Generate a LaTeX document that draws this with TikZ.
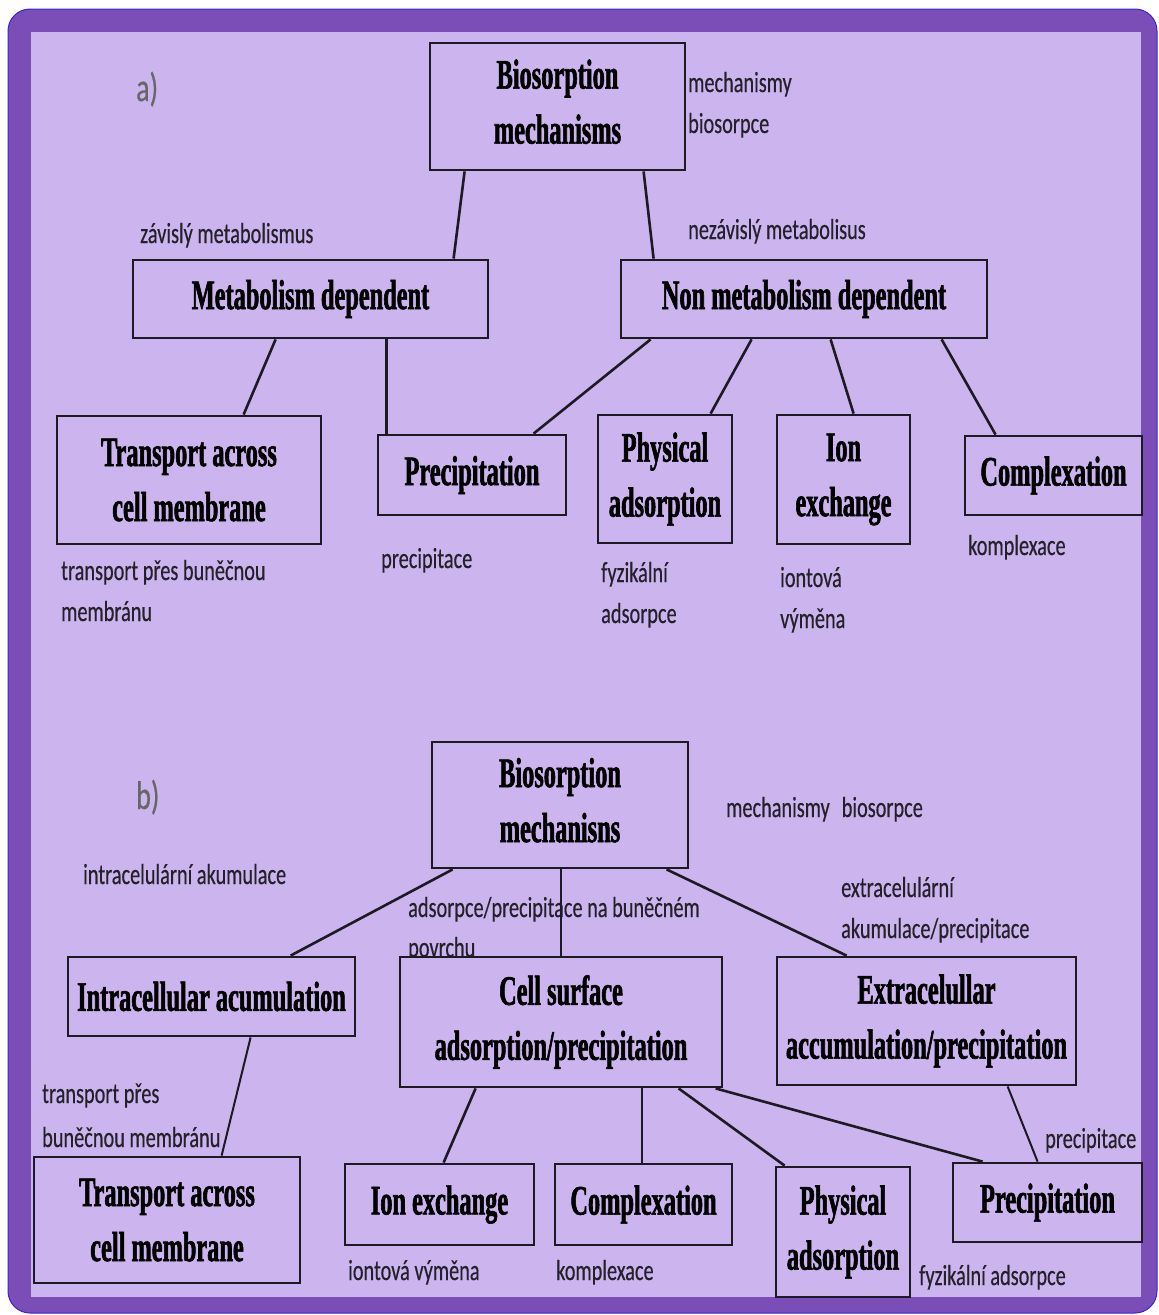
\documentclass[tikz,border=0pt]{standalone}
\usepackage{fontspec}
\usetikzlibrary{calc}
\newfontfamily\bxf[FakeStretch=0.58,FakeBold=1.4]{Liberation Serif}
\newfontfamily\lbf[FakeStretch=0.7,FakeBold=0.4]{Carlito}
\definecolor{framec}{HTML}{7B4DB7}
\definecolor{bgc}{HTML}{CCB4EF}
\definecolor{ink}{HTML}{1E1A24}
\definecolor{labc}{HTML}{25212B}
\begin{document}
\begin{tikzpicture}[x=1pt,y=-1pt,
  bx/.style={draw=ink, line width=2.8pt, fill=bgc, align=center, inner sep=0pt,
    font=\bxf\bfseries\fontsize{42}{55}\selectfont, text=black},
  bio/.style={text depth=10pt},
  lbl/.style={anchor=base west, inner sep=0pt, font=\lbf\fontsize{29}{41}\selectfont, text=labc},
  part/.style={anchor=base west, inner sep=0pt, font=\lbf\fontsize{40}{40}\selectfont, text=black!60},
  ln/.style={draw=ink, line width=2.6pt},
  thin/.style={draw=ink, line width=2pt},
]
\useasboundingbox (0,0) rectangle (1159,1315);
\fill[white] (0,0) rectangle (1159,1315);
\fill[framec, rounded corners=22pt] (8,9) rectangle (1157,1313);
\draw[blue!55!framec, line width=1pt, rounded corners=22pt] (8,9) rectangle (1157,1313);
\fill[bgc] (31,32) rectangle (1141,1297);

% ---------- labels (part a)
\node[part] (pa) at (136,101) {a)};
\node[lbl] (za) at (140,243) {závislý metabolismus};
\node[lbl] (nz) at (688,239) {nezávislý metabolisus};
\node[lbl] (m1) at (688,92) {mechanismy};
\node[lbl] (m2) at (688,133) {biosorpce};
\node[lbl] (t1) at (61,580) {transport přes buněčnou};
\node[lbl] (t2) at (61,621) {membránu};
\node[lbl] (pc) at (381,568) {precipitace};
\node[lbl] (f1) at (601,582) {fyzikální};
\node[lbl] (f2) at (601,623) {adsorpce};
\node[lbl] (i1) at (780,587) {iontová};
\node[lbl] (i2) at (780,628) {výměna};
\node[lbl] (kx) at (968,555) {komplexace};

% ---------- labels (part b)
\node[part] (pb) at (136,809) {b)};
\node[lbl] (ia) at (83,884) {intracelulární akumulace};
\node[lbl] (ap1) at (408,917) {adsorpce/precipitace na buněčném};
\node[lbl] (ap2) at (408,957) {povrchu};
\node[lbl] (mb) at (726,817) {mechanismy\hspace{12pt}biosorpce};
\node[lbl] (e1) at (841,897) {extracelulární};
\node[lbl] (e2) at (841,938) {akumulace/precipitace};
\node[lbl] (tb1) at (42,1103) {transport přes};
\node[lbl] (tb2) at (42,1147) {buněčnou membránu};
\node[lbl] (iv) at (348,1280) {iontová výměna};
\node[lbl] (kb) at (556,1280) {komplexace};
\node[lbl] (fa) at (919,1285) {fyzikální adsorpce};
\node[lbl] (pp) at (1045,1148) {precipitace};

% ---------- boxes (part a)
\node[bx, bio, minimum width=255pt, minimum height=127pt] (bioA) at (557.5,106.5) {Biosorption\\mechanisms};
\node[bx, minimum width=355pt, minimum height=78pt] (metA) at (310.5,299) {Metabolism dependent};
\node[bx, minimum width=366pt, minimum height=78pt] (nonA) at (804,299) {Non metabolism dependent};
\node[bx, minimum width=264pt, minimum height=128pt] (trA) at (189,480) {Transport across\\cell membrane};
\node[bx, minimum width=188pt, minimum height=80pt] (preA) at (472,475) {Precipitation};
\node[bx, minimum width=134pt, minimum height=128pt] (phyA) at (665,479) {Physical\\adsorption};
\node[bx, minimum width=133pt, minimum height=129pt] (ionA) at (843.5,479.5) {Ion\\exchange};
\node[bx, minimum width=177pt, minimum height=79pt] (comA) at (1053.5,475.5) {Complexation};

% ---------- boxes (part b)
\node[bx, bio, minimum width=256pt, minimum height=126pt] (bioB) at (560,805) {Biosorption\\mechanisns};
\node[bx, minimum width=287pt, minimum height=79pt] (intB) at (211.5,996.5) {Intracellular acumulation};
\node[bx, minimum width=322pt, minimum height=130pt] (celB) at (561,1022) {Cell surface\\adsorption/precipitation};
\node[bx, minimum width=299pt, minimum height=128pt] (extB) at (926.5,1021) {Extracelullar\\accumulation/precipitation};
\node[bx, minimum width=266pt, minimum height=126pt] (trB) at (167,1220) {Transport across\\cell membrane};
\node[bx, minimum width=189pt, minimum height=81pt] (ionB) at (439.5,1204.5) {Ion exchange};
\node[bx, minimum width=177pt, minimum height=81pt] (comB) at (643.5,1204.5) {Complexation};
\node[bx, minimum width=134pt, minimum height=130pt] (phyB) at (843,1232) {Physical\\adsorption};
\node[bx, minimum width=189pt, minimum height=79pt] (preB) at (1047.5,1202.5) {Precipitation};

% ---------- connectors (part a)
\draw[ln] ($(bioA.south west)+(36,0)$) -- ($(metA.north west)+(322,0)$);
\draw[ln] ($(bioA.south west)+(215,0)$) -- ($(nonA.north west)+(34,0)$);
\draw[ln] ($(metA.south west)+(144,0)$) -- ($(trA.north west)+(188,0)$);
\draw[ln] ($(metA.south west)+(255,0)$) -- ($(preA.north west)+(10,0)$);
\draw[ln] ($(nonA.south west)+(31,0)$) -- ($(preA.north west)+(157,0)$);
\draw[ln] ($(nonA.south west)+(132,0)$) -- ($(phyA.north west)+(114,0)$);
\draw[ln] ($(nonA.south west)+(211,0)$) -- ($(ionA.north west)+(78,0)$);
\draw[ln] ($(nonA.south west)+(322,0)$) -- ($(comA.north west)+(32,0)$);

% ---------- connectors (part b)
\draw[ln] ($(bioB.south west)+(22,0)$) -- ($(intB.north west)+(224,0)$);
\draw[thin] ($(bioB.south west)+(130,0)$) -- ($(celB.north west)+(162,0)$);
\draw[ln] ($(bioB.south west)+(236,0)$) -- ($(extB.north west)+(71,0)$);
\draw[thin] ($(intB.south west)+(184,0)$) -- ($(trB.north west)+(189,0)$);
\draw[ln] ($(celB.south west)+(77,0)$) -- ($(ionB.north west)+(100,0)$);
\draw[thin] ($(celB.south west)+(243,0)$) -- ($(comB.north west)+(88,0)$);
\draw[ln] ($(celB.south west)+(280,0)$) -- ($(phyB.north west)+(10,0)$);
\draw[ln] ($(celB.south west)+(317,0)$) -- ($(preB.north west)+(31,0)$);
\draw[thin] ($(extB.south west)+(232,0)$) -- ($(preB.north west)+(86,0)$);
\end{tikzpicture}
\end{document}
